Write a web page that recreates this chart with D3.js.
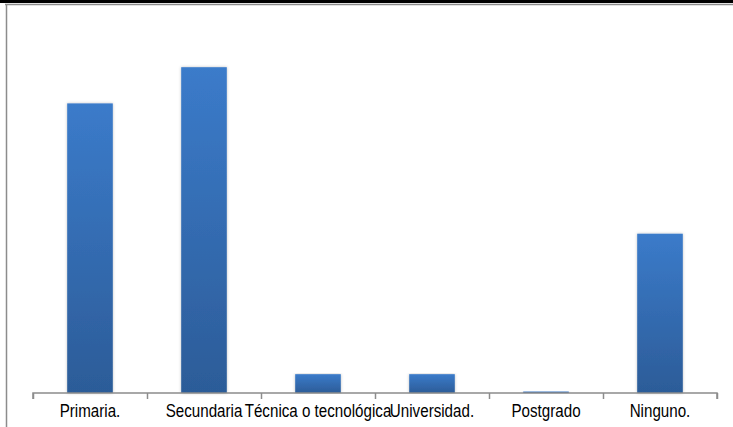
<!DOCTYPE html>
<html>
<head>
<meta charset="utf-8">
<script src="https://cdn.jsdelivr.net/npm/d3@7"></script>
<style>
  html, body { margin: 0; padding: 0; background: #fff; }
  svg { display: block; }
</style>
</head>
<body>
<svg id="chart" width="733" height="427"></svg>
<script>
const categories = ["Primaria.", "Secundaria", "Técnica o tecnológica", "Universidad.", "Postgrado", "Ninguno."];
const values = [40, 45, 2.6, 2.6, 0.2, 22];

(function () {
const svg = d3.select("#chart");
const W = 733, H = 427;
const plotLeft = 33, plotRight = 717, baseline = 393, plotTop = 31;

// frame
svg.append("rect").attr("x", 0).attr("y", 0).attr("width", W).attr("height", 3).attr("fill", "#000");
svg.append("line").attr("x1", 5).attr("x2", W).attr("y1", 4.5).attr("y2", 4.5)
  .attr("stroke", "#8c8c8c").attr("stroke-width", 1.5);
svg.append("line").attr("x1", 6.5).attr("x2", 6.5).attr("y1", 4).attr("y2", H)
  .attr("stroke", "#8c8c8c").attr("stroke-width", 1.5);

const x = d3.scaleBand().domain(categories).range([plotLeft, plotRight]).paddingInner(0.6).paddingOuter(0.3);
const y = d3.scaleLinear().domain([0, 50]).range([baseline, plotTop]);

const defs = svg.append("defs");
const grad = defs.append("linearGradient").attr("id", "barGrad")
  .attr("x1", 0).attr("y1", 0).attr("x2", 0).attr("y2", 1);
grad.append("stop").attr("offset", "0%").attr("stop-color", "#3b7bca");
grad.append("stop").attr("offset", "100%").attr("stop-color", "#2c5c98");
const f = defs.append("filter").attr("id", "shadow").attr("x", "-20%").attr("y", "-5%").attr("width", "140%").attr("height", "110%");
f.append("feDropShadow").attr("dx", 0).attr("dy", 0).attr("stdDeviation", 1.5)
  .attr("flood-color", "#000").attr("flood-opacity", 0.25);

svg.append("g").selectAll("rect").data(categories).join("rect")
  .attr("x", d => x(d))
  .attr("width", x.bandwidth())
  .attr("y", (d, i) => y(values[i]))
  .attr("height", (d, i) => baseline - y(values[i]))
  .attr("fill", "url(#barGrad)")
  .attr("filter", "url(#shadow)");

// x axis
const xAxisScale = d3.scalePoint().domain(d3.range(categories.length + 1)).range([plotLeft, plotRight]);
const axis = svg.append("g").attr("transform", `translate(0,${baseline})`)
  .call(d3.axisBottom(xAxisScale).tickSize(6).tickFormat(""));
axis.select(".domain").attr("stroke", "#8c8c8c").attr("stroke-width", 1.5)
  .attr("d", `M${plotLeft},6V0H${plotRight}V6`);
axis.selectAll(".tick line").attr("stroke", "#8c8c8c").attr("stroke-width", 1.5);

svg.append("g").selectAll("g").data(categories).join("g")
  .attr("transform", d => `translate(${x(d) + x.bandwidth() / 2},417) scale(0.82,1)`)
  .append("text")
  .attr("text-anchor", "middle")
  .attr("font-family", "'Liberation Sans', Arial, sans-serif")
  .attr("font-size", 18.5)
  .attr("fill", "#000")
  .text(d => d);
})();
</script>
</body>
</html>
